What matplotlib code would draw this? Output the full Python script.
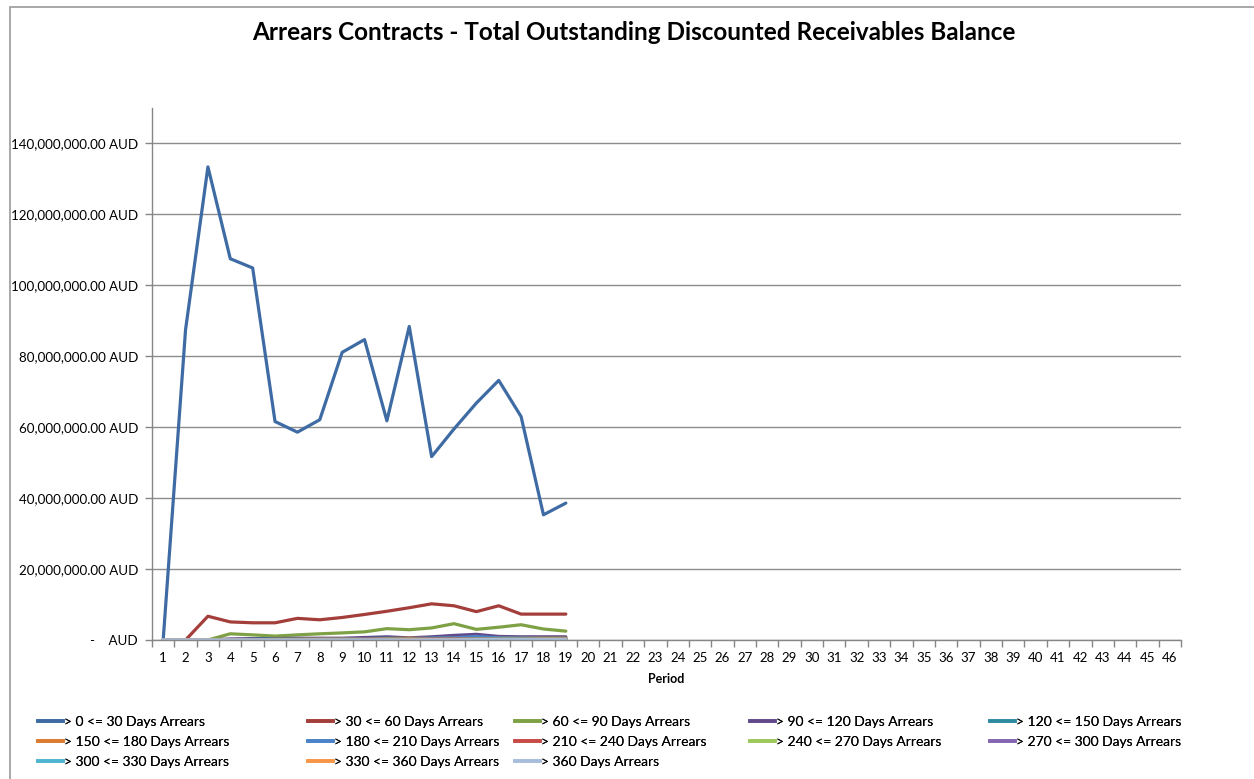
import matplotlib
matplotlib.use("Agg")
import matplotlib.pyplot as plt
from matplotlib.lines import Line2D
from matplotlib.patches import Rectangle
from matplotlib.ticker import FuncFormatter, FixedLocator

plt.rcParams['font.family'] = ['Lato', 'DejaVu Sans']

periods = list(range(1, 47))
data_periods = list(range(1, 20))

series_labels = [
    "> 0 <= 30 Days Arrears", "> 30 <= 60 Days Arrears", "> 60 <= 90 Days Arrears",
    "> 90 <= 120 Days Arrears", "> 120 <= 150 Days Arrears", "> 150 <= 180 Days Arrears",
    "> 180 <= 210 Days Arrears", "> 210 <= 240 Days Arrears", "> 240 <= 270 Days Arrears",
    "> 270 <= 300 Days Arrears", "> 300 <= 330 Days Arrears", "> 330 <= 360 Days Arrears",
    "> 360 Days Arrears",
]

# values in millions of AUD
d0_30 = [0, 87.5, 133.4, 107.5, 104.9, 61.6, 58.6, 62.1, 81.1, 84.7, 61.8, 88.4, 51.7, 59.5, 66.8, 73.2, 63.0, 35.3, 38.6]
d30_60 = [0, 0, 6.7, 5.1, 4.85, 4.85, 6.1, 5.7, 6.35, 7.2, 8.1, 9.1, 10.2, 9.65, 8.0, 9.65, 7.3, 7.3, 7.3]
d60_90 = [0, 0, 0, 1.75, 1.45, 1.1, 1.45, 1.75, 2.0, 2.3, 3.2, 2.9, 3.4, 4.6, 3.0, 3.6, 4.3, 3.1, 2.5]
d90_120 = [0, 0, 0, 0.3, 0.4, 0.4, 0.5, 0.5, 0.5, 0.7, 0.9, 0.6, 0.9, 1.3, 1.6, 1.0, 0.9, 0.9, 0.9]
d120_150 = [0, 0, 0, 0, 0.2, 0.3, 0.3, 0.3, 0.3, 0.4, 0.5, 0.4, 0.5, 0.6, 0.7, 0.6, 0.5, 0.5, 0.5]
d150_180 = [0, 0, 0, 0, 0, 0.2, 0.2, 0.3, 0.3, 0.3, 0.4, 0.5, 0.4, 0.5, 0.6, 0.6, 0.5, 0.5, 0.5]
d180_210 = [0, 0, 0, 0, 0, 0, 0.1, 0.2, 0.2, 0.3, 0.3, 0.3, 0.5, 0.6, 1.0, 0.6, 0.5, 0.4, 0.4]
d210_240 = [0, 0, 0, 0, 0, 0, 0, 0.1, 0.1, 0.2, 0.2, 0.2, 0.3, 0.3, 0.3, 0.4, 0.4, 0.3, 0.3]
d240_270 = [0, 0, 0, 0, 0, 0, 0, 0, 0.1, 0.1, 0.2, 0.2, 0.2, 0.2, 0.3, 0.3, 0.3, 0.3, 0.3]
d270_300 = [0, 0, 0, 0, 0, 0, 0, 0, 0, 0.1, 0.1, 0.1, 0.2, 0.2, 0.2, 0.2, 0.2, 0.2, 0.2]
d300_330 = [0, 0, 0, 0, 0, 0, 0, 0, 0, 0, 0.1, 0.1, 0.1, 0.1, 0.1, 0.2, 0.2, 0.2, 0.2]
d330_360 = [0, 0, 0, 0, 0, 0, 0, 0, 0, 0, 0, 0.1, 0.1, 0.1, 0.1, 0.1, 0.1, 0.2, 0.2]
d360_plus = [0, 0, 0, 0, 0, 0, 0, 0, 0, 0, 0, 0, 0.05, 0.05, 0.1, 0.1, 0.1, 0.1, 0.1]

series_values = [d0_30, d30_60, d60_90, d90_120, d120_150, d150_180, d180_210,
                 d210_240, d240_270, d270_300, d300_330, d330_360, d360_plus]

colors = ["#3E6BA3", "#A33E3B", "#7FA146", "#624A8A", "#2E8AA0", "#DC7A30",
          "#4A82C8", "#C94B47", "#9DC95B", "#8466B0", "#4DB5CF", "#F79646", "#A7BDDB"]

y_ticks = [0, 20e6, 40e6, 60e6, 80e6, 100e6, 120e6, 140e6]

W, H = 1254, 779
fig = plt.figure(figsize=(W / 100, H / 100), dpi=100)
fig.patch.set_facecolor("white")

# outer chart frame
fig.add_artist(Rectangle((10 / W, -0.1), 1.2, 1 - 7 / H + 0.1, transform=fig.transFigure,
                         fill=False, edgecolor="#9A9A9A", linewidth=1.2))

ax = fig.add_axes([152 / W, 1 - 640 / H, (1181 - 152) / W, (640 - 108) / H])

for vals, col, lab in zip(series_values, colors, series_labels):
    ax.plot(data_periods, [v * 1e6 for v in vals], color=col, linewidth=2.3,
            label=lab, solid_joinstyle="round", solid_capstyle="round")

ax.set_xlim(0.5, 46.5)
ax.set_ylim(0, 150e6)
ax.set_yticks(y_ticks)

def fmt(v, pos):
    if v == 0:
        return "-    AUD"
    return f"{v:,.2f} AUD"

ax.yaxis.set_major_formatter(FuncFormatter(fmt))
ax.set_xticks(periods)
ax.set_xticklabels([str(p) for p in periods])
ax.xaxis.set_minor_locator(FixedLocator([p + 0.5 for p in range(0, 47)]))
ax.tick_params(axis="x", which="major", length=0, pad=9, labelsize=9.5, colors="black")
ax.tick_params(axis="x", which="minor", length=5, color="#868686", width=1)
ax.tick_params(axis="y", length=5, color="#868686", width=1, pad=5, labelsize=9.6)

ax.grid(axis="y", color="#8C8C8C", linewidth=1)
ax.set_axisbelow(True)
for s in ["top", "right"]:
    ax.spines[s].set_visible(False)
for s in ["left", "bottom"]:
    ax.spines[s].set_color("#868686")
    ax.spines[s].set_linewidth(1)

ax.set_xlabel("Period", fontsize=9, fontweight="bold", labelpad=6)

fig.text(634 / W, 1 - 33 / H, "Arrears Contracts - Total Outstanding Discounted Receivables Balance",
         ha="center", va="center", fontsize=17.5, fontweight="bold")

# legend: 5 columns, row-major order
handles = [Line2D([], [], color=c, linewidth=2.6) for c in colors]
col_x = [38, 308, 515, 750, 990]
ncols = 5
for ci, x in enumerate(col_x):
    idx = list(range(ci, len(series_labels), ncols))
    leg = fig.legend([handles[i] for i in idx], [series_labels[i] for i in idx],
                     loc="upper left", bbox_to_anchor=(x / W, 1 - 716 / H),
                     bbox_transform=fig.transFigure, frameon=False, fontsize=10,
                     handlelength=1.8, handletextpad=0.1, borderpad=0, borderaxespad=0,
                     labelspacing=0.58)
    fig.add_artist(leg)

fig.savefig("out.png", dpi=100, facecolor="white")
